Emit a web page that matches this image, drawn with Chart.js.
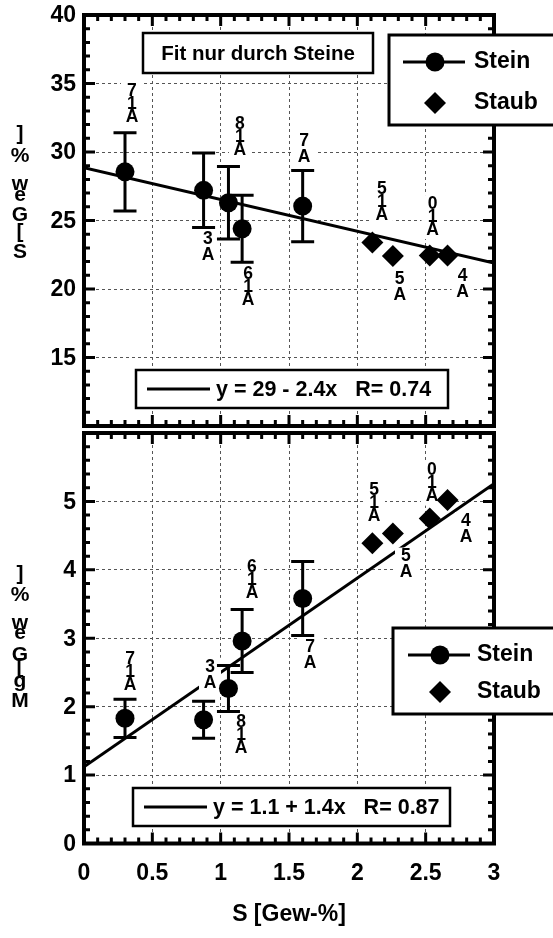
<!DOCTYPE html>
<html>
<head>
<meta charset="utf-8">
<script src="https://cdn.jsdelivr.net/npm/chart.js@4.4.1/dist/chart.umd.min.js"></script>
<style>
  html, body { margin: 0; padding: 0; background: #fff; }
  #wrap { position: relative; width: 553px; height: 938px; }
  .panel { position: absolute; left: 0; width: 553px; }
</style>
</head>
<body>
<div id="wrap">
  <div class="panel" style="top:0;height:440px"><canvas id="topChart"></canvas></div>
  <div class="panel" style="top:420px;height:518px"><canvas id="bottomChart"></canvas></div>
</div>
<script>
// --- data ---
const steinX = [0.30, 0.875, 1.057, 1.157, 1.60];
const steinS = [28.55, 27.2, 26.3, 24.4, 26.05];
const steinSErr = [2.85, 2.72, 2.65, 2.45, 2.6];
const steinMg = [1.83, 1.81, 2.265, 2.96, 3.58];
const steinMgErr = [0.28, 0.27, 0.335, 0.46, 0.54];

const staubX = [2.11, 2.26, 2.53, 2.66];
const staubS = [23.4, 22.4, 22.45, 22.45];
const staubMg = [4.39, 4.53, 4.75, 5.02];

const fitX = [0, 3];
const fitS = [28.85, 21.9];
const fitMg = [1.12, 5.26];

const sampleNames = ["A17", "A3", "A18", "A16", "A7", "A15", "A5", "A10", "A4"];
const sampleXS = [0.351, 0.907, 1.141, 1.20, 1.61, 2.18, 2.31, 2.55, 2.77];
const sampleYS = [32.55, 22.48, 30.15, 19.2, 29.64, 25.4, 19.56, 24.3, 19.78];
const sampleXMg = [0.337, 0.922, 1.149, 1.229, 1.654, 2.122, 2.356, 2.546, 2.795];
const sampleYMg = [2.32, 2.35, 1.40, 3.66, 2.64, 4.78, 3.96, 5.07, 4.48];

const xTicks = [0, 0.5, 1, 1.5, 2, 2.5, 3];
const yTicksS = [15, 20, 25, 30, 35, 40];
const yTicksMg = [0, 1, 2, 3, 4, 5];

const FONT = '"Liberation Sans", Arial, sans-serif';

function toPoints(xs, ys) {
  return xs.map((x, i) => ({ x, y: ys[i] }));
}

function txt(ctx, s, x, y, size, align = "center") {
  ctx.save();
  ctx.font = `bold ${size}px ${FONT}`;
  ctx.textAlign = align;
  ctx.textBaseline = "middle";
  ctx.fillStyle = "#000";
  ctx.fillText(s, x, y);
  ctx.restore();
}

function box(ctx, x1, y1, x2, y2, lw) {
  ctx.save();
  ctx.fillStyle = "#fff";
  ctx.fillRect(x1, y1, x2 - x1, y2 - y1);
  ctx.lineWidth = lw;
  ctx.strokeStyle = "#000";
  ctx.strokeRect(x1, y1, x2 - x1, y2 - y1);
  ctx.restore();
}

function diamond(ctx, x, y, r) {
  ctx.beginPath();
  ctx.moveTo(x, y - r);
  ctx.lineTo(x + r, y);
  ctx.lineTo(x, y + r);
  ctx.lineTo(x - r, y);
  ctx.closePath();
  ctx.fill();
}

function drawLegend(ctx, x1, y1, rowA, rowB, symX, textX) {
  box(ctx, x1, y1, 570, rowB + 22, 3);
  ctx.save();
  ctx.fillStyle = "#000";
  ctx.strokeStyle = "#000";
  ctx.lineWidth = 3;
  ctx.beginPath();
  ctx.moveTo(symX - 32, rowA);
  ctx.lineTo(symX + 30, rowA);
  ctx.stroke();
  ctx.beginPath();
  ctx.arc(symX, rowA, 9.5, 0, Math.PI * 2);
  ctx.fill();
  diamond(ctx, symX, rowB, 11);
  ctx.restore();
  txt(ctx, "Stein", textX, rowA, 23, "left");
  txt(ctx, "Staub", textX, rowB, 23, "left");
}

function drawEquation(ctx, x1, y1, x2, y2, label) {
  box(ctx, x1, y1, x2, y2, 2.5);
  const cy = (y1 + y2) / 2;
  ctx.save();
  ctx.lineWidth = 3;
  ctx.strokeStyle = "#000";
  ctx.beginPath();
  ctx.moveTo(x1 + 11, cy);
  ctx.lineTo(x1 + 74, cy);
  ctx.stroke();
  ctx.restore();
  txt(ctx, label, x1 + 80, cy + 1, 21.5, "left");
}

function makePanel(cfg) {
  const off = cfg.offset;

  const panelDecor = {
    id: "panelDecor",
    afterDatasetDraw(chart, args) {
      // runs right after the fit line, before the points
      if (args.index !== 0) {
        return;
      }
      const { ctx } = chart;
      const xs = chart.scales.x;
      const ys = chart.scales.y;
      ctx.save();
      cfg.names.forEach((name, i) => {
        const px = xs.getPixelForValue(cfg.labelX[i]);
        const py = ys.getPixelForValue(cfg.labelY[i]);
        const chars = name.split("");
        const step = chars.length > 2 ? 13 : 16;
        const topY = py - step * (chars.length - 1);
        ctx.fillStyle = "#fff";
        ctx.fillRect(px - 11, topY - 9, 22, py - topY + 18);
        chars.forEach((c, k) => {
          txt(ctx, c, px, py - step * k, 17.5);
        });
      });
      ctx.strokeStyle = "#000";
      ctx.lineWidth = 3;
      cfg.steinY.forEach((v, i) => {
        const px = xs.getPixelForValue(steinX[i]);
        const hi = ys.getPixelForValue(v + cfg.err[i]);
        const lo = ys.getPixelForValue(v - cfg.err[i]);
        ctx.beginPath();
        ctx.moveTo(px, hi);
        ctx.lineTo(px, lo);
        ctx.moveTo(px - 11.5, hi);
        ctx.lineTo(px + 11.5, hi);
        ctx.moveTo(px - 11.5, lo);
        ctx.lineTo(px + 11.5, lo);
        ctx.stroke();
      });
      ctx.restore();
    },
    afterDraw(chart) {
      const { ctx, chartArea: a } = chart;
      const xs = chart.scales.x;
      const ys = chart.scales.y;
      ctx.save();
      ctx.strokeStyle = "#000";
      ctx.lineWidth = 4;
      ctx.strokeRect(a.left, a.top, a.right - a.left, a.bottom - a.top);
      ctx.lineWidth = 3;
      ctx.beginPath();
      for (let i = 0; i <= 30; i++) {
        const px = xs.getPixelForValue(i / 10);
        const len = i % 5 === 0 ? 11 : 6;
        ctx.moveTo(px, a.top);
        ctx.lineTo(px, a.top + len);
        ctx.moveTo(px, a.bottom);
        ctx.lineTo(px, a.bottom - len);
      }
      for (let i = 0; i <= 30; i++) {
        const py = ys.getPixelForValue(cfg.yMin + i * cfg.minorStep);
        const len = i % 5 === 0 ? 11 : 6;
        ctx.moveTo(a.left, py);
        ctx.lineTo(a.left + len, py);
        ctx.moveTo(a.right, py);
        ctx.lineTo(a.right - len, py);
      }
      ctx.stroke();
      ctx.restore();

      cfg.yLabels.forEach((v) => {
        txt(ctx, String(v), 76, ys.getPixelForValue(v) + 1, 23, "right");
      });
      // stacked y axis title, characters overlap like in the original
      cfg.yTitle.forEach(([c, y]) => txt(ctx, c, 20, y - off, 21));

      cfg.extras(chart, ctx, off);
    },
  };

  return new Chart(document.getElementById(cfg.canvas), {
    type: "scatter",
    data: {
      datasets: [
        {
          type: "line",
          data: toPoints(fitX, cfg.fitY),
          borderColor: "#000",
          borderWidth: 3,
          pointRadius: 0,
          showLine: true,
          order: 3,
        },
        {
          data: toPoints(steinX, cfg.steinY),
          pointStyle: "circle",
          pointRadius: 9.5,
          backgroundColor: "#000",
          borderWidth: 0,
          order: 2,
        },
        {
          data: toPoints(staubX, cfg.staubY),
          pointStyle: "rectRot",
          pointRadius: 11,
          backgroundColor: "#000",
          borderWidth: 0,
          order: 1,
        },
      ],
    },
    plugins: [panelDecor],
    options: {
      responsive: true,
      maintainAspectRatio: false,
      animation: false,
      events: [],
      layout: { padding: { top: cfg.padTop, right: 59, bottom: cfg.padBottom, left: 0 } },
      plugins: { legend: { display: false }, tooltip: { enabled: false } },
      scales: {
        x: {
          min: 0,
          max: 3,
          ticks: { stepSize: 0.5, display: false },
          grid: { color: "#555", lineWidth: 1, drawTicks: false },
          border: { display: false, dash: [3, 3] },
          afterFit(scale) { scale.height = cfg.xHeight; },
        },
        y: {
          min: cfg.yMin,
          max: cfg.yMax,
          ticks: { stepSize: cfg.yStep, display: false },
          grid: { color: "#555", lineWidth: 1, drawTicks: false },
          border: { display: false, dash: [3, 3] },
          afterFit(scale) { scale.width = 84; },
        },
      },
    },
  });
}

makePanel({
  canvas: "topChart",
  offset: 0,
  padTop: 15,
  padBottom: 14,
  xHeight: 0,
  yMin: 10,
  yMax: 40,
  yStep: 5,
  minorStep: 1,
  yLabels: yTicksS,
  yTitle: [["]", 134], ["%", 156], ["w", 184], ["e", 195], ["G", 215], ["[", 232], ["S", 252]],
  fitY: fitS,
  steinY: steinS,
  err: steinSErr,
  staubY: staubS,
  names: sampleNames,
  labelX: sampleXS,
  labelY: sampleYS,
  extras(chart, ctx, off) {
    box(ctx, 143, 33 - off, 373, 73 - off, 2.5);
    txt(ctx, "Fit nur durch Steine", 258, 54 - off, 20.5);
    drawEquation(ctx, 136, 370 - off, 448, 408 - off, "y = 29 - 2.4x   R= 0.74");
    drawLegend(ctx, 389, 35 - off, 62 - off, 103 - off, 435, 474);
  },
});

makePanel({
  canvas: "bottomChart",
  offset: 420,
  padTop: 13,
  padBottom: 0,
  xHeight: 94.5,
  yMin: 0,
  yMax: 6,
  yStep: 1,
  minorStep: 0.2,
  yLabels: yTicksMg,
  yTitle: [["]", 574], ["%", 595], ["w", 623], ["e", 633], ["G", 655], ["[", 667], ["g", 681], ["M", 701]],
  fitY: fitMg,
  steinY: steinMg,
  err: steinMgErr,
  staubY: staubMg,
  names: sampleNames,
  labelX: sampleXMg,
  labelY: sampleYMg,
  extras(chart, ctx, off) {
    drawEquation(ctx, 133, 788 - off, 450, 826 - off, "y = 1.1 + 1.4x   R= 0.87");
    drawLegend(ctx, 393, 628 - off, 655 - off, 692 - off, 440, 477);
    const xs = chart.scales.x;
    xTicks.forEach((t) => {
      txt(ctx, String(t), xs.getPixelForValue(t), 874 - off, 23);
    });
    txt(ctx, "S [Gew-%]", 289, 915 - off, 23);
  },
});
</script>
</body>
</html>
